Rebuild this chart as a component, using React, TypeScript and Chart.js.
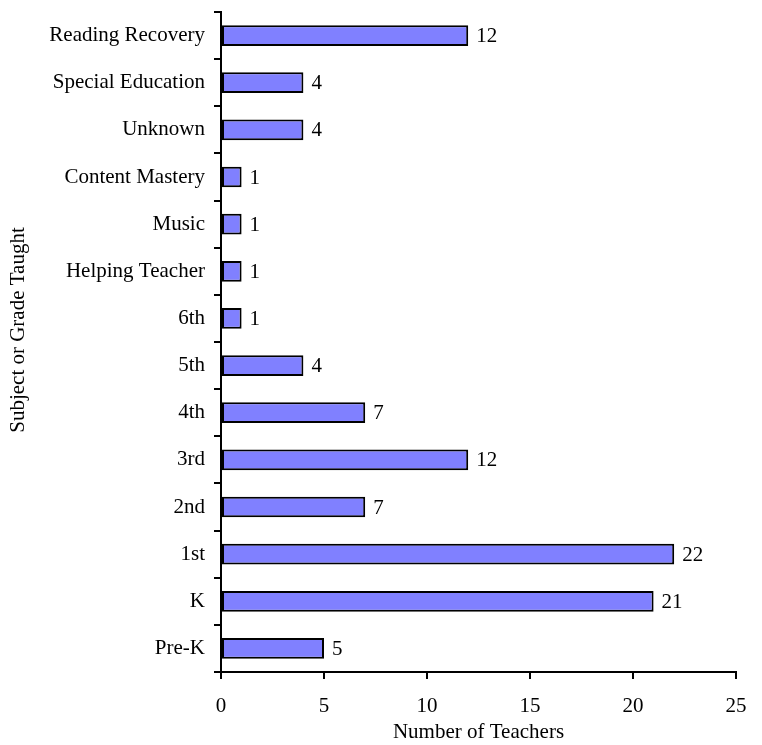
import React, { useEffect, useRef } from "react";
import { Chart, registerables } from "chart.js";

Chart.register(...registerables);

const categories = [
  "Reading Recovery",
  "Special Education",
  "Unknown",
  "Content Mastery",
  "Music",
  "Helping Teacher",
  "6th",
  "5th",
  "4th",
  "3rd",
  "2nd",
  "1st",
  "K",
  "Pre-K",
];
const teacherCounts = [12, 4, 4, 1, 1, 1, 1, 4, 7, 12, 7, 22, 21, 5];
const xTicksMin = 0;
const xTicksMax = 25;
const xTickStep = 5;
const xTitle = "Number of Teachers";
const yTitle = "Subject or Grade Taught";

const FONT = "'Liberation Serif', 'Times New Roman', serif";
const FONT_SIZE = 21;

const valueLabelPlugin = {
  id: "valueLabels",
  afterDatasetsDraw(chart: any) {
    const ctx = chart.ctx;
    const meta = chart.getDatasetMeta(0);
    ctx.save();
    ctx.font = `${FONT_SIZE}px ${FONT}`;
    ctx.fillStyle = "#000";
    ctx.textAlign = "left";
    ctx.textBaseline = "middle";
    meta.data.forEach((el: any, i: number) => {
      const v = chart.data.datasets[0].data[i];
      ctx.fillText(String(v), el.x + 8, el.y + 1);
    });
    ctx.restore();
  },
};

const yTitlePlugin = {
  id: "yTitle",
  afterDraw(chart: any) {
    const ctx = chart.ctx;
    ctx.save();
    ctx.font = `${FONT_SIZE}px ${FONT}`;
    ctx.fillStyle = "#000";
    ctx.textAlign = "center";
    ctx.textBaseline = "middle";
    ctx.translate(18, 330);
    ctx.rotate(-Math.PI / 2);
    ctx.fillText(yTitle, 0, 0);
    ctx.restore();
  },
};

export default function App() {
  const canvasRef = useRef<HTMLCanvasElement | null>(null);

  useEffect(() => {
    const canvas = canvasRef.current;
    if (!canvas) return;
    const chart = new Chart(canvas, {
      type: "bar",
      data: {
        labels: categories,
        datasets: [
          {
            data: teacherCounts,
            backgroundColor: "#8080FF",
            borderColor: "#000000",
            borderWidth: 2,
            borderSkipped: false,
            barPercentage: 0.44,
            categoryPercentage: 1,
          },
        ],
      },
      options: {
        indexAxis: "y",
        animation: false,
        responsive: false,
        maintainAspectRatio: false,
        layout: { padding: { top: 12, right: 26, left: 0, bottom: 0 } },
        plugins: {
          legend: { display: false },
          tooltip: { enabled: false },
        },
        scales: {
          x: {
            type: "linear",
            min: xTicksMin,
            max: xTicksMax,
            ticks: {
              stepSize: xTickStep,
              color: "#000",
              font: { family: FONT, size: FONT_SIZE },
              padding: 15,
              maxRotation: 0,
            },
            grid: {
              drawOnChartArea: false,
              drawTicks: true,
              tickLength: 7,
              tickWidth: 2,
              color: "#000",
              lineWidth: 2,
            },
            border: { display: true, color: "#000", width: 2 },
            title: {
              display: true,
              text: xTitle,
              color: "#000",
              font: { family: FONT, size: FONT_SIZE },
              padding: { top: 0, bottom: 0 },
            },
            afterFit(scale: any) {
              scale.height = 73;
              scale.paddingLeft = 0;
              scale.paddingRight = 0;
            },
          },
          y: {
            type: "category",
            offset: true,
            ticks: {
              color: "#000",
              font: { family: FONT, size: FONT_SIZE },
              padding: 9,
            },
            grid: {
              offset: true,
              drawOnChartArea: false,
              drawTicks: true,
              tickLength: 7,
              tickWidth: 2,
              color: "#000",
              lineWidth: 2,
            },
            border: { display: true, color: "#000", width: 2 },
            afterFit(scale: any) {
              scale.width = 221;
              scale.paddingTop = 0;
              scale.paddingBottom = 0;
            },
          },
        },
      },
      plugins: [valueLabelPlugin, yTitlePlugin],
    } as any);
    return () => chart.destroy();
  }, []);

  return (
    <div style={{ position: "fixed", left: 0, top: 0, width: 762, height: 745, background: "#fff" }}>
      <canvas ref={canvasRef} width={762} height={745} style={{ display: "block" }} />
    </div>
  );
}
